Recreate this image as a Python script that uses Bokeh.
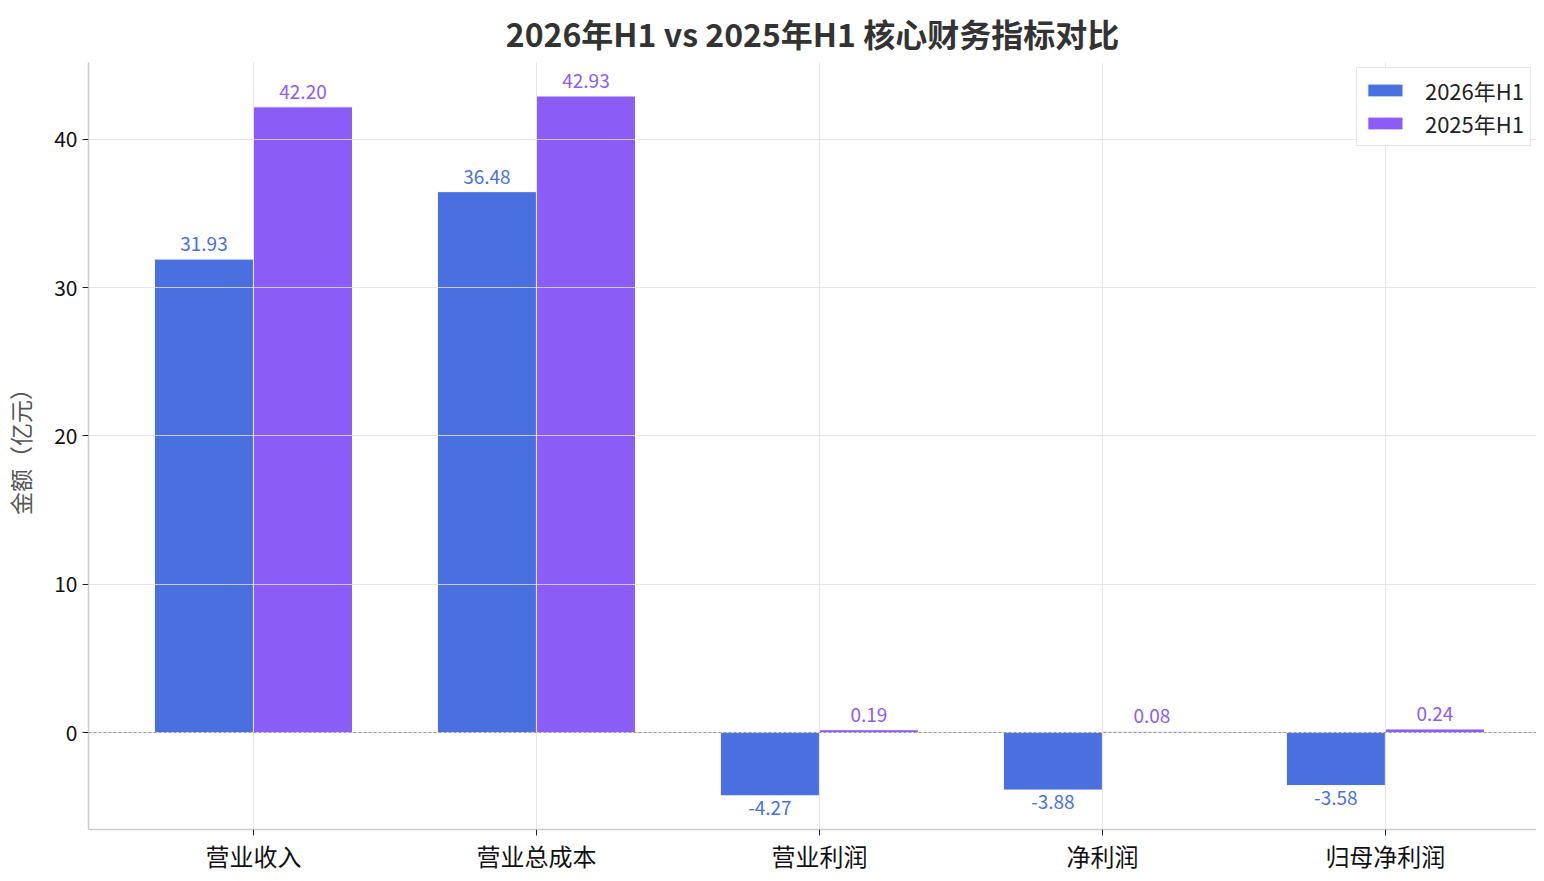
from bokeh.plotting import figure
from bokeh.models import (ColumnDataSource, FixedTicker, Range1d, Span, Legend, LegendItem,
                          LabelSet, Title)
from bokeh.core.properties import value
from bokeh.transform import dodge
from bokeh.embed import file_html
from bokeh.resources import INLINE

categories = ["营业收入", "营业总成本", "营业利润", "净利润", "归母净利润"]
h1_2026 = [31.93, 36.48, -4.27, -3.88, -3.58]
h1_2025 = [42.20, 42.93, 0.19, 0.08, 0.24]
series_names = ["2026年H1", "2025年H1"]
y_ticks = [0, 10, 20, 30, 40]

FONT = "Noto Sans CJK SC"
BLUE = "#4a70e0"
PURPLE = "#8b5cf6"
W = 0.35

idx = list(range(len(categories)))

src = ColumnDataSource(dict(x=idx, a=h1_2026, b=h1_2025))

p = figure(frame_width=1448, frame_height=767, output_backend="svg", toolbar_location=None,
           x_range=Range1d(-0.583, 4.534), y_range=Range1d(-6.54, 45.19),
           min_border_left=80, min_border_right=0, min_border_top=57, min_border_bottom=41)
p.outline_line_color = None
p.background_fill_color = "white"

p.title = Title(text="2026年H1 vs 2025年H1 核心财务指标对比", text_font=FONT,
                text_font_size="32px", text_font_style="bold", text_color="#333333",
                align="center", offset=0, standoff=14)

r1 = p.vbar(x=dodge("x", -W / 2, range=p.x_range), top="a", bottom=0, width=W, source=src,
            fill_color=BLUE, line_color="white", line_width=1)
r2 = p.vbar(x=dodge("x", W / 2, range=p.x_range), top="b", bottom=0, width=W, source=src,
            fill_color=PURPLE, line_color="white", line_width=1)

pos_a = ColumnDataSource(dict(x=[i for i, v in zip(idx, h1_2026) if v >= 0],
                              y=[v for v in h1_2026 if v >= 0],
                              t=["%.2f" % v for v in h1_2026 if v >= 0]))
neg_a = ColumnDataSource(dict(x=[i for i, v in zip(idx, h1_2026) if v < 0],
                              y=[v for v in h1_2026 if v < 0],
                              t=["%.2f" % v for v in h1_2026 if v < 0]))
pos_b = ColumnDataSource(dict(x=[i for i, v in zip(idx, h1_2025) if v >= 0],
                              y=[v for v in h1_2025 if v >= 0],
                              t=["%.2f" % v for v in h1_2025 if v >= 0]))

for s, off, col, yoff, base in [(pos_a, -W / 2, BLUE, 8, "bottom"),
                                (neg_a, -W / 2, BLUE, -5, "top"),
                                (pos_b, W / 2, PURPLE, 8, "bottom")]:
    p.add_layout(LabelSet(x=dodge("x", off, range=p.x_range), y="y", text="t", source=s,
                          y_offset=yoff, text_align="center", text_baseline=base,
                          text_font=value(FONT), text_font_size="19px", text_color=col))

p.add_layout(Span(location=0, dimension="width", line_color="#999999", line_width=1,
                  line_dash="3 2", level="overlay"))

legend = Legend(items=[LegendItem(label=series_names[0], renderers=[r1]),
                       LegendItem(label=series_names[1], renderers=[r2])],
                location="top_right", label_text_font=FONT, label_text_font_size="22px",
                label_text_color="#222222", glyph_width=44, glyph_height=16,
                label_standoff=18, spacing=1, padding=6, margin=5,
                border_line_color="#cccccc", border_line_width=1.5,
                background_fill_alpha=0.9)
p.add_layout(legend)

p.xaxis.ticker = FixedTicker(ticks=idx)
p.xaxis.major_label_overrides = {i: c for i, c in zip(idx, categories)}
p.yaxis.ticker = FixedTicker(ticks=y_ticks)
for ax in (p.xaxis, p.yaxis):
    ax.axis_line_color = "#cccccc"
    ax.axis_line_width = 1.5
    ax.major_tick_line_color = "#222222"
    ax.major_tick_in = 0
    ax.major_tick_out = 6
    ax.minor_tick_line_color = None
    ax.major_label_text_font = FONT
    ax.major_label_text_color = "#111111"
p.xaxis.major_label_text_font_size = "24px"
p.xaxis.major_label_standoff = 2
p.yaxis.major_label_text_font_size = "21px"
p.yaxis.axis_label = "金额（亿元）"
p.yaxis.axis_label_text_font = FONT
p.yaxis.axis_label_text_font_size = "23px"
p.yaxis.axis_label_text_font_style = "normal"
p.yaxis.axis_label_text_color = "#555555"
p.yaxis.axis_label_standoff = 14

for g in (p.xgrid, p.ygrid):
    g.grid_line_color = "#e0e0e0"
    g.grid_line_alpha = 0.8
    g.level = "overlay"
p.xgrid.ticker = FixedTicker(ticks=idx)
p.ygrid.ticker = FixedTicker(ticks=y_ticks)

open("out.html", "w").write(file_html(p, INLINE))
